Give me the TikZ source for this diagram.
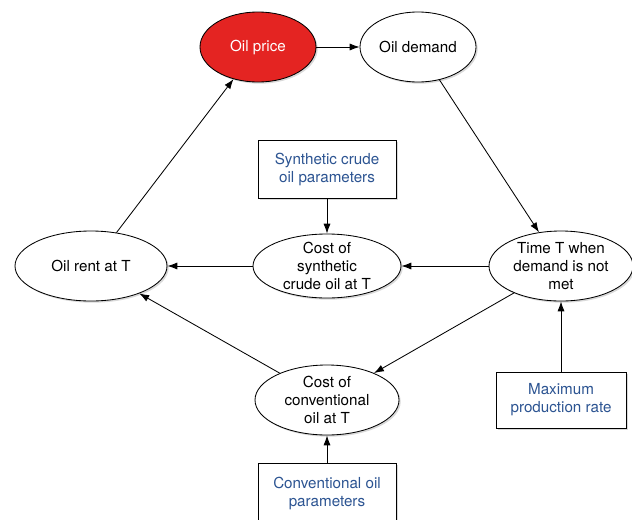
\documentclass[tikz,border=0pt]{standalone}
\usepackage{fontspec}
\setmainfont{TeX Gyre Heros}
\usetikzlibrary{positioning,shapes.geometric,shadows,arrows.meta}
\definecolor{pricered}{RGB}{228,36,34}
\definecolor{parblue}{RGB}{44,84,146}
\tikzset{
	blob/.style={ellipse,draw=black,fill=white,line width=0.6pt,inner xsep=0pt,inner ysep=-6pt,align=center,
		font=\fontsize{10.8}{12.8}\selectfont,drop shadow={shadow xshift=1.2pt,shadow yshift=-1.2pt,opacity=0.3}},
	param/.style={rectangle,draw=black,fill=white,line width=0.6pt,align=center,text=parblue,
		font=\fontsize{10.8}{12.8}\selectfont,drop shadow={shadow xshift=1.2pt,shadow yshift=-1.2pt,opacity=0.3}},
	link/.style={-{Latex[length=7pt,width=5pt]},line width=0.6pt}
}
\begin{document}
\begin{tikzpicture}
	\useasboundingbox (0,0) rectangle (15.8,12.975);
	\clip (0,0) rectangle (15.8,12.975);
	\coordinate (o) at (0,0);
	%% top row
	\node[blob,fill=pricered,text=white,minimum width=2.9cm,minimum height=1.75cm,above right=11.8 and 6.45 of o,anchor=center] (price) {Oil price};
	\node[blob,minimum width=2.9cm,minimum height=1.75cm,above right=11.8 and 10.45 of o,anchor=center] (demand) {Oil demand};
	%% middle row
	\node[param,minimum width=3.45cm,minimum height=1.45cm,above right=8.75 and 8.175 of o,anchor=center] (synpar) {Synthetic crude\\oil parameters};
	\node[blob,minimum width=3.7cm,minimum height=1.6cm,above right=6.325 and 8.175 of o,anchor=center] (syncost) {Cost of\\synthetic\\crude oil at T};
	\node[blob,minimum width=3.8cm,minimum height=1.75cm,above right=6.325 and 2.275 of o,anchor=center] (rent) {Oil rent at T};
	\node[blob,minimum width=3.6cm,minimum height=1.75cm,above right=6.325 and 14.025 of o,anchor=center] (timeT) {Time T when\\demand is not\\met};
	%% bottom row
	\node[blob,minimum width=3.6cm,minimum height=1.75cm,above right=2.975 and 8.175 of o,anchor=center] (convcost) {Cost of\\conventional\\oil at T};
	\node[param,minimum width=3.25cm,minimum height=1.4cm,above right=2.975 and 14.025 of o,anchor=center] (maxrate) {Maximum\\production rate};
	\node[param,minimum width=3.45cm,minimum height=1.5cm,above right=0.65 and 8.175 of o,anchor=center] (convpar) {Conventional oil\\parameters};
	% connections
	\draw[link] (price) -- (demand);
	\draw[link] (demand) -- (timeT);
	\draw[link] (timeT) -- (syncost);
	\draw[link] (timeT) -- (convcost);
	\draw[link] (syncost) -- (rent);
	\draw[link] (convcost) -- (rent);
	\draw[link] (rent) -- (price);
	\draw[link] (synpar) -- (syncost);
	\draw[link] (convpar) -- (convcost);
	\draw[link] (maxrate) -- (timeT);
\end{tikzpicture}
\end{document}
